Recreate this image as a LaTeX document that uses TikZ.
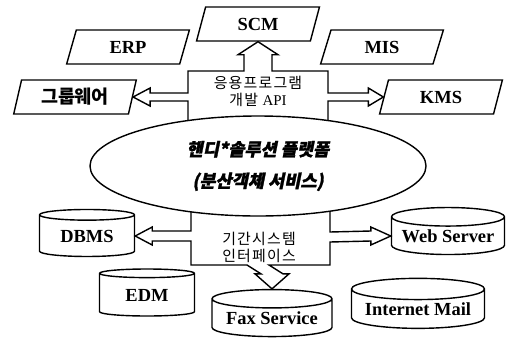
\documentclass[tikz,border=0pt]{standalone}
\usepackage{fontspec}
\setmainfont{Liberation Serif}
\newfontfamily\cjk{Noto Sans CJK KR}
\newfontfamily\cjkbox[LetterSpace=8]{Noto Sans CJK KR}
\newfontfamily\cjksl[FakeSlant=0.2,FakeBold=1.5]{Noto Sans CJK KR}
\usetikzlibrary{shapes.geometric,calc}

\begin{document}
\begin{tikzpicture}[x=0.2mm,y=-0.2mm,line width=0.8pt,
  para/.style={draw,trapezium,trapezium left angle=74,trapezium right angle=106,
    trapezium stretches=true,minimum width=24.6mm,minimum height=6.8mm,inner sep=0pt,
    font=\bfseries\fontsize{10.5}{12}\selectfont},
  can/.style={draw,cylinder,shape border rotate=90,aspect=0.2,inner sep=0pt,
    minimum width=19mm,minimum height=9.4mm,font=\bfseries\fontsize{10.5}{12}\selectfont},
  boxtext/.style={align=center,font=\cjkbox\fontsize{8.5}{9.6}\selectfont}]
\useasboundingbox (0,0) rectangle (510,342);

% application side
\node[para] (scm) at (258,24) {SCM};
\node[para] (erp) at (128,47) {ERP};
\node[para] (mis) at (382,47) {MIS};
\node[para,font=\cjk\bfseries\fontsize{10.5}{12}\selectfont] (grp) at (75,97) {그룹웨어};
\node[para] (kms) at (441,97) {KMS};

% legacy side
\node[can] (dbms) at (87,236) {DBMS};
\node[can] (edm) at (147,295) {EDM};
\node[can,minimum width=24mm] (fax) at (272,318) {Fax Service};
\node[can,minimum width=22.6mm] (web) at (448,236) {Web Server};
\node[can,minimum width=26.6mm,minimum height=10mm] (mail) at (418,309) {Internet Mail};

\draw[fill=white] (188,135) -- (188,101) -- ($(grp.east)+(17,4)$) -- ($(grp.east)+(17,9)$)
  -- (grp.east) -- ($(grp.east)+(17,-9)$) -- ($(grp.east)+(17,-4)$) -- (188,93)
  -- (188,71) -- (244,71) -- ($(scm.south)+(-14,13)$) -- ($(scm.south)+(-20,13)$)
  -- (scm.south) -- ($(scm.south)+(20,13)$) -- ($(scm.south)+(14,13)$) -- (272,71)
  -- (328,71) -- (328,93) -- ($(kms.west)+(-15,-4)$) -- ($(kms.west)+(-15,-9)$)
  -- (kms.west) -- ($(kms.west)+(-15,9)$) -- ($(kms.west)+(-15,4)$) -- (328,101) -- (328,135);
\node[boxtext] (api) at (258,91) {응용프로그램\\개발 \rmfamily API};

\draw[fill=white] (191,195) -- (191,231) -- ($(dbms.east)+(17,-5)$) -- ($(dbms.east)+(17,-9)$)
  -- (dbms.east) -- ($(dbms.east)+(17,9)$) -- ($(dbms.east)+(17,5)$) -- (191,241)
  -- (191,265) -- (247,265) -- ($(fax.north)+(-11,-15)$) -- ($(fax.north)+(-17,-15)$)
  -- (fax.north) -- ($(fax.north)+(17,-15)$) -- ($(fax.north)+(11,-15)$) -- (269,265)
  -- (330,265) -- (330,242) -- ($(web.west)+(-20,5)$) -- ($(web.west)+(-20,9)$)
  -- (web.west) -- ($(web.west)+(-20,-9)$) -- ($(web.west)+(-20,-5)$) -- (330,232) -- (330,195);
\node[boxtext] (itf) at (259,247) {기간시스템\\인터페이스};

\node[draw,ellipse,fill=white,minimum width=67.2mm,minimum height=20mm,align=center,
  font=\cjksl\bfseries\fontsize{10}{18}\selectfont] (core) at (258,166)
  {핸디*솔루션 플랫폼\\(분산객체 서비스)};
\end{tikzpicture}
\end{document}
